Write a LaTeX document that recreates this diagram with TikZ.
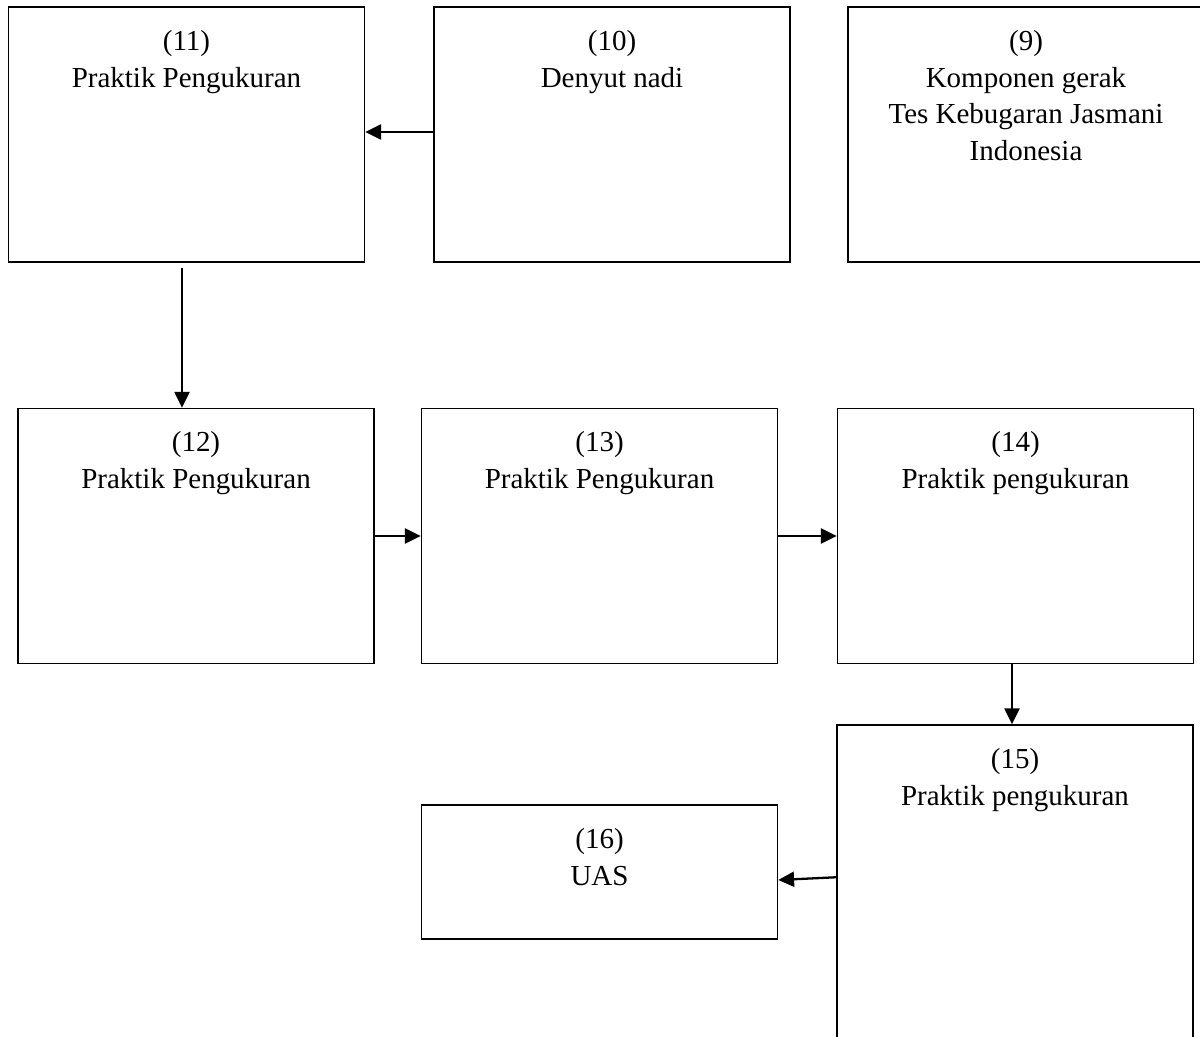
\documentclass[tikz,border=0pt]{standalone}
\usepackage{fontspec}
\setmainfont{Liberation Serif}
\usetikzlibrary{positioning,arrows.meta,calc}

\begin{document}
\begin{tikzpicture}[
  x=0.02cm, y=-0.02cm,
  >={Triangle[length=9pt,width=8.5pt]},
  box/.style={draw, line width=0.9pt, rectangle, minimum width=7.12cm,
              minimum height=5.1cm, inner sep=0pt},
  smallbox/.style={box, minimum height=2.68cm},
  tallbox/.style={box, minimum height=6.8cm},
  txt/.style={align=center, inner sep=0pt,
              font=\fontsize{16.5}{21}\selectfont},
  arr/.style={->, line width=1.3pt}
]
\useasboundingbox (0,0) rectangle (1200,1037);
\clip (0,0) rectangle (1200,1037);

% ---- Row positions ----
\def\yA{134.5}   % top row
\def\yB{536}     % middle row

% ---- Top row ----
\node[box] (b11) at (186.5,\yA) {};
\node[box] (b10) at (612,\yA)   {};
\node[box] (b9)  at (1026,\yA)  {};
\node[txt, below=0.47cm of b11.north] (t11) {(11)\\Praktik Pengukuran};
\node[txt, below=0.47cm of b10.north] (t10) {(10)\\Denyut nadi};
\node[txt, below=0.47cm of b9.north]  (t9)
    {(9)\\Komponen gerak\\Tes Kebugaran Jasmani\\Indonesia};

% ---- Middle row ----
\node[box] (b12) at (196,\yB)    {};
\node[box] (b13) at (599.5,\yB)  {};
\node[box] (b14) at (1015.5,\yB) {};
\node[txt, below=0.47cm of b12.north] (t12) {(12)\\Praktik Pengukuran};
\node[txt, below=0.47cm of b13.north] (t13) {(13)\\Praktik Pengukuran};
\node[txt, below=0.47cm of b14.north] (t14) {(14)\\Praktik pengukuran};

% ---- Bottom row ----
\node[tallbox]  (b15) at (1015,895)  {};
\node[smallbox] (b16) at (599.5,872) {};
\node[txt, below=0.47cm of b15.north] (t15) {(15)\\Praktik pengukuran};
\node[txt, below=0.47cm of b16.north] (t16) {(16)\\UAS};

% ---- Arrows ----
\draw[arr] ($(b10.west)+(0,-2.5)$) -- ($(b11.east)+(0,-2.5)$);
\draw[arr] ($(b11.south)+(-4.5,5)$) -- ($(b12.north)+(-14,0)$);
\draw[arr] (b12.east) -- (b13.west);
\draw[arr] (b13.east) -- (b14.west);
\draw[arr] ($(b14.south)+(-3.5,0)$) -- ($(b15.north)+(-3,0)$);
\draw[arr] ($(b15.north west)+(0,153)$) -- ($(b16.east)+(0,8)$);

\end{tikzpicture}
\end{document}
